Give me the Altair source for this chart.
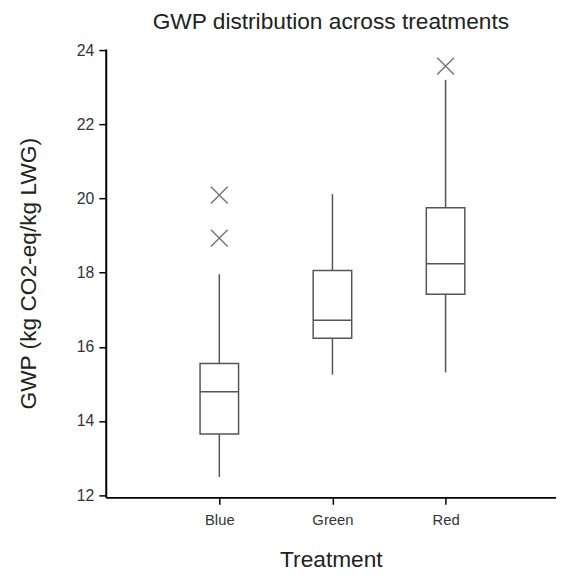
import altair as alt
import pandas as pd

treatments = ["Blue", "Green", "Red"]
whisker_low = [12.49, 15.25, 15.31]
q1 = [13.65, 16.23, 17.42]
median = [14.79, 16.72, 18.24]
q3 = [15.55, 18.06, 19.75]
whisker_high = [17.96, 20.12, 23.20]

outlier_treatment = ["Blue", "Blue", "Red"]
outlier_value = [20.09, 18.93, 23.57]

stats = pd.DataFrame({
    "Treatment": treatments,
    "low": whisker_low,
    "q1": q1,
    "median": median,
    "q3": q3,
    "high": whisker_high,
})
outliers = pd.DataFrame({"Treatment": outlier_treatment, "GWP": outlier_value})

FONT = "Liberation Sans"
BOX_COLOR = "#555555"

x_enc = alt.X(
    "Treatment:N",
    sort=treatments,
    scale=alt.Scale(type="point", padding=0.99, align=0.507),
    axis=alt.Axis(
        title="Treatment",
        labelAngle=0,
        labelFontSize=15,
        labelPadding=8,
        titleFontSize=23,
        titlePadding=22,
        tickSize=7,
    ),
)
y_scale = alt.Scale(domain=[11.94, 24.03], nice=False, zero=False)
y_axis = alt.Axis(
    title="GWP (kg CO2-eq/kg LWG)",
    values=[12, 14, 16, 18, 20, 22, 24],
    labelFontSize=16,
    labelPadding=5,
    titleFontSize=23,
    titlePadding=36,
    tickSize=7,
)

base = alt.Chart(stats)

lower_whisker = base.mark_rule(color=BOX_COLOR, strokeWidth=1.5).encode(
    x=x_enc,
    y=alt.Y("low:Q", scale=y_scale, axis=y_axis),
    y2="q1:Q",
)
upper_whisker = base.mark_rule(color=BOX_COLOR, strokeWidth=1.5).encode(
    x=x_enc,
    y=alt.Y("q3:Q", scale=y_scale, axis=y_axis),
    y2="high:Q",
)
box = base.mark_bar(size=39, fill="white", stroke=BOX_COLOR, strokeWidth=1.5).encode(
    x=x_enc,
    y=alt.Y("q1:Q", scale=y_scale, axis=y_axis),
    y2="q3:Q",
)
med = base.mark_tick(size=39, thickness=1.5, color=BOX_COLOR, opacity=1).encode(
    x=x_enc,
    y=alt.Y("median:Q", scale=y_scale, axis=y_axis),
)
out = alt.Chart(outliers).mark_point(
    shape="M-1,-1L1,1M-1,1L1,-1",
    size=289,
    filled=False,
    color="#777777",
    strokeWidth=1.5,
    opacity=1,
).encode(
    x=x_enc,
    y=alt.Y("GWP:Q", scale=y_scale, axis=y_axis),
)

chart = (
    alt.layer(lower_whisker, upper_whisker, box, med, out)
    .properties(
        width=456,
        height=454,
        title=alt.TitleParams(
            "GWP distribution across treatments",
            fontSize=23,
            font=FONT,
            fontWeight="normal",
            color="#222222",
            frame="group",
            anchor="middle",
            offset=8,
        ),
        padding={"left": 10, "top": 0, "right": 0, "bottom": 0},
    )
    .configure_view(stroke=None)
    .configure_axis(
        grid=False,
        domainColor="#000000",
        domainWidth=2,
        tickColor="#000000",
        tickWidth=1.5,
        labelColor="#333333",
        titleColor="#222222",
        labelFont=FONT,
        titleFont=FONT,
        titleFontWeight="normal",
    )
)

chart.save("out.html", embed_options={"renderer": "svg", "actions": False})
